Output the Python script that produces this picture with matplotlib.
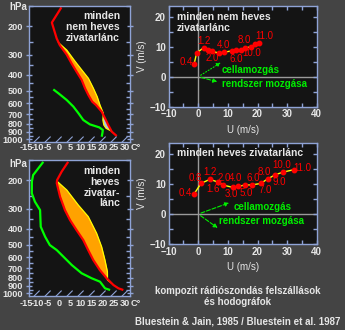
import numpy as np
import matplotlib
matplotlib.use("Agg")
from matplotlib import pyplot as plt
from matplotlib.ticker import FixedLocator, NullFormatter, MultipleLocator
from matplotlib.transforms import blended_transform_factory

plt.rcParams['font.family'] = ['Liberation Sans', 'DejaVu Sans']
plt.rcParams['font.weight'] = 'bold'

# --- sounding, top: "minden nem heves zivatarlanc" ---
pTopTemp = [153, 190, 238, 262, 300, 340, 383, 430, 484, 533, 586, 614, 676, 743, 817, 899, 956]
tTopTemp = [-59, -56.4, -47, -42.5, -35, -28.8, -22.7, -16.7, -11.4, -6.8, -2.0, 1.2, 6.9, 11.4, 15.9, 20.6, 24.8]
pTopParcel = [253, 281, 331, 373, 420, 484, 546, 614, 691, 761, 817, 856, 890]
tTopParcel = [-44.2, -37.1, -28.0, -21.2, -14.4, -7.6, -2.0, 3.0, 8.3, 11.2, 13.9, 16.4, 20.0]
pTopDew = [492, 520, 572, 629, 691, 761, 810, 845, 877, 905, 966]
tTopDew = [-25.3, -21.2, -14.4, -8.3, -3.0, 2.3, 7.3, 12.9, 15.7, 16.6, 18.3]

# --- sounding, bottom: "minden heves zivatarlanc" ---
pBotTemp = [154, 177, 200, 209, 253, 306, 353, 407, 469, 541, 624, 719, 809, 890, 933, 956]
tBotTemp = [-55.7, -54.2, -52.4, -51.1, -43.5, -35.2, -28.3, -20.8, -13.2, -6.4, 0.5, 8.0, 14.9, 21.0, 24.8, 27.8]
pBotParcel = [204, 230, 285, 336, 426, 516, 624, 736, 800, 829, 860]
tBotParcel = [-51.6, -43.5, -31.4, -21.6, -10.2, -1.8, 5.8, 12.2, 14.9, 16.0, 18.7]
pBotDew = [154, 186, 204, 241, 272, 306, 388, 447, 504, 541, 595, 670, 753, 809, 849, 933, 956]
tBotDew = [-67.0, -65.6, -63.2, -57.9, -52.6, -46.5, -38.6, -32.1, -26.1, -20.7, -14.6, -7.0, 1.2, 8.1, 13.4, 18.7, 21.8]

pressureTicks = [200, 300, 400, 500, 600, 700, 800, 900, 1000]
pressureMinor = [150, 250, 350, 450, 550, 650, 750, 850, 950]
tempLabels = [-15, -10, -5, 0, 5, 10, 15, 20, 25, 30]
isotherms = [-10, -5, 0, 5, 10, 15, 20, 25, 30]

# --- hodographs [m/s] ---
heights = [0.4, 0.8, 1.2, 1.6, 2.0, 3.0, 4.0, 5.0, 6.0, 7.0, 8.0, 9.0, 10.0, 11.0]
uTop = [-1.45, -0.55, 1.8, 3.3, 4.6, 7.0, 8.7, 11.3, 12.9, 14.4, 15.9, 17.7, 19.3, 20.6]
vTop = [4.1, 7.9, 9.7, 9.0, 8.5, 7.9, 8.2, 8.6, 9.0, 8.8, 9.6, 10.0, 10.8, 11.3]
uBot = [-1.45, 0.9, 3.95, 6.75, 8.25, 11.6, 13.5, 15.8, 18.0, 21.1, 23.4, 26.0, 28.7, 32.3]
vBot = [6.65, 10.2, 11.6, 10.6, 9.7, 8.9, 9.2, 9.7, 9.7, 10.2, 11.7, 13.1, 14.0, 14.8]
cellTop, systemTop = (8.4, 5.2), (7.3, -1.9)
cellBot, systemBot = (11.3, 4.05), (7.3, -5.2)

# label offsets in pixels (None = label not drawn)
offTop = [(-8, 2), None, (0, 7), None, (0, -7), None, (-1, 7), None, (0, -9), None, (-1, 8), None, (-4, -9), (5, 7)]
offBot = [(-9, 1), (-6, 5), (0, 7), (-5, -7), (2, 7), (-1, -7), (-3, 8), (1, -8), (2, 7), (4, -7), (-3, 7), (4, -7), (-2, 7), (8, 2)]

BG = '#444444'
FACE = '#141414'
SPINE = '#8fa3d6'
TXT = '#e6e6e6'
GREEN = '#00ee00'
SKEW = 32.0
PX = 0.72  # points per pixel at dpi 100
NUMFONT = ['Liberation Sans Narrow', 'Liberation Sans', 'DejaVu Sans']


def skewX(t, p):
    return np.asarray(t, dtype=float) + SKEW * np.log(1000.0 / np.asarray(p, dtype=float))


def styleAxes(ax):
    ax.set_facecolor(FACE)
    for s in ax.spines.values():
        s.set_color(SPINE)
        s.set_linewidth(1.0)


def plotSkewT(fig, ax, pT, tT, pP, tP, pD, tD, lines, lineY, labelYpx):

    styleAxes(ax)
    ax.set_yscale('log')

    lnGrid = np.linspace(np.log(min(pP)), np.log(max(pP)), 400)
    pGrid = np.exp(lnGrid)
    xTemp = np.interp(lnGrid, np.log(pT), skewX(tT, pT))
    xParcel = np.interp(lnGrid, np.log(pP), skewX(tP, pP))
    ax.fill_betweenx(pGrid, xTemp, xParcel, where=xParcel >= xTemp, interpolate=True, color='#ffa200', lw=0)
    ax.fill_betweenx(pGrid, xTemp, xParcel, where=xParcel < xTemp, interpolate=True, color='#a9c4e2', lw=0)

    ax.plot(skewX(tP, pP), pP, color='#ffff00', lw=0.9)
    ax.plot(skewX(tT, pT), pT, color='#ff0000', lw=1.6, solid_capstyle='butt')
    ax.plot(skewX(tD, pD), pD, color='#00ff00', lw=1.6, solid_capstyle='butt')

    for t in isotherms:
        ax.plot(skewX([t, t], [1041, 969]), [1041, 969], color=SPINE, lw=0.8)

    ax.set_xlim(-13.64, 32.27)
    ax.set_ylim(1041, 150)
    ax.set_xticks([])
    ax.yaxis.set_major_locator(FixedLocator(pressureTicks))
    ax.set_yticklabels([str(p) for p in pressureTicks])
    ax.yaxis.set_minor_locator(FixedLocator(pressureMinor))
    ax.yaxis.set_minor_formatter(NullFormatter())
    ax.tick_params(axis='y', which='major', direction='inout', length=5, width=1, color=SPINE,
                   labelcolor=TXT, labelsize=6.6, pad=2, right=True)
    ax.tick_params(axis='y', which='minor', direction='in', length=3, width=1, color=SPINE, right=True)

    trans = blended_transform_factory(ax.transData, fig.transFigure)
    for t in tempLabels:
        ax.text(t, 1 - labelYpx / 330, str(t), transform=trans, ha='center', va='center',
                color=TXT, fontsize=6.6, clip_on=False)
    ax.text(32.6, 1 - labelYpx / 330, 'C°', transform=trans, ha='left', va='center', color=TXT, fontsize=6.6)

    for line, y in zip(lines, lineY):
        ax.text(0.90, y, line, transform=ax.transAxes, ha='right', va='center', color=TXT, fontsize=7.5)


def plotHodograph(ax, u, v, offsets, cell, system, cellStyle, sysStyle, cellText, sysText, titles, titleY):

    styleAxes(ax)
    ax.axhline(0, color='#9a9a9a', lw=1, zorder=1)
    ax.axvline(0, color='#9a9a9a', lw=1, zorder=1)

    ax.plot(u, v, color='#ffff00', lw=1.0, zorder=2)
    ax.plot(u, v, linestyle='none', marker='o', markersize=3.2, color='#ff0000', zorder=3)

    for h, x, y, off in zip(heights, u, v, offsets):
        if off is None:
            continue
        ax.annotate(f'{h:.1f}', (x, y), xytext=(off[0] * PX, off[1] * PX), textcoords='offset points',
                    ha='center', va='center', color='#ff0000', fontsize=7, fontweight='normal',
                    family=NUMFONT)

    ax.annotate('', xy=cell, xytext=(0, 0),
                arrowprops=dict(arrowstyle='-|>', color=GREEN, lw=0.8, linestyle=cellStyle, mutation_scale=6))
    ax.annotate('', xy=system, xytext=(0, 0),
                arrowprops=dict(arrowstyle='-|>', color=GREEN, lw=0.8, linestyle=sysStyle, mutation_scale=6))
    ax.text(cellText[0], cellText[1], 'cellamozgás', color=GREEN, fontsize=7, ha='left', va='center')
    ax.text(sysText[0], sysText[1], 'rendszer mozgása', color=GREEN, fontsize=7, ha='left', va='center')

    for t, y in zip(titles, titleY):
        ax.text(0.054, y, t, transform=ax.transAxes, ha='left', va='center', color=TXT, fontsize=7.5)

    ax.set_xlim(-10, 40)
    ax.set_ylim(-10, 23.6)
    ax.set_xticks([-10, 0, 10, 20, 30, 40])
    ax.set_yticks([-10, 0, 10, 20])
    ax.xaxis.set_minor_locator(MultipleLocator(5))
    ax.yaxis.set_minor_locator(MultipleLocator(5))
    ax.tick_params(which='both', direction='in', length=3, width=1, color=SPINE,
                   top=True, right=True, labelcolor=TXT, labelsize=7, pad=2)
    ax.set_xlabel('U (m/s)', color=TXT, fontsize=7, labelpad=4)
    ax.set_ylabel('V (m/s)', color=TXT, fontsize=7, labelpad=2)


fig = plt.figure(figsize=(3.45, 3.3), dpi=100, facecolor=BG)

axTopSkew = fig.add_axes([29 / 345, 1 - 142 / 330, 101 / 345, 136 / 330])
axBotSkew = fig.add_axes([29 / 345, 1 - 296 / 330, 101 / 345, 136 / 330])
axTopHodo = fig.add_axes([168.7 / 345, 1 - 106.7 / 330, 148 / 345, 100.7 / 330])
axBotHodo = fig.add_axes([168.7 / 345, 1 - 244 / 330, 148 / 345, 100.7 / 330])

plotSkewT(fig, axTopSkew, pTopTemp, tTopTemp, pTopParcel, tTopParcel, pTopDew, tTopDew,
          ['minden', 'nem heves', 'zivatarlánc'], [0.926, 0.848, 0.767], 147.3)
plotSkewT(fig, axBotSkew, pBotTemp, tBotTemp, pBotParcel, tBotParcel, pBotDew, tBotDew,
          ['minden', 'heves', 'zivatar-', 'lánc'], [0.921, 0.840, 0.760, 0.682], 304)

fig.text(18 / 345, 1 - 7.3 / 330, 'hPa', ha='center', va='center', color=TXT, fontsize=7)
fig.text(18 / 345, 1 - 164 / 330, 'hPa', ha='center', va='center', color=TXT, fontsize=7)

plotHodograph(axTopHodo, uTop, vTop, offTop, cellTop, systemTop, ':', '--', (7.9, 2.4), (7.9, -2.5),
              ['minden nem heves', 'zivatarlánc'], [0.894, 0.785])
plotHodograph(axBotHodo, uBot, vBot, offBot, cellBot, systemBot, '--', '--', (11.8, 2.5), (7.1, -2.4),
              ['minden heves zivatarlánc'], [0.904])

fig.text(238 / 345, 1 - 290.7 / 330, 'kompozit rádiószondás felszállások', ha='center', va='center',
         color=TXT, fontsize=7)
fig.text(238 / 345, 1 - 302.3 / 330, 'és hodográfok', ha='center', va='center', color=TXT, fontsize=7)
fig.text(340 / 345, 1 - 321.7 / 330, 'Bluestein & Jain, 1985 / Bluestein et al. 1987', ha='right',
         va='center', color=TXT, fontsize=7)

fig.savefig('out.png', dpi=100, facecolor=BG)
